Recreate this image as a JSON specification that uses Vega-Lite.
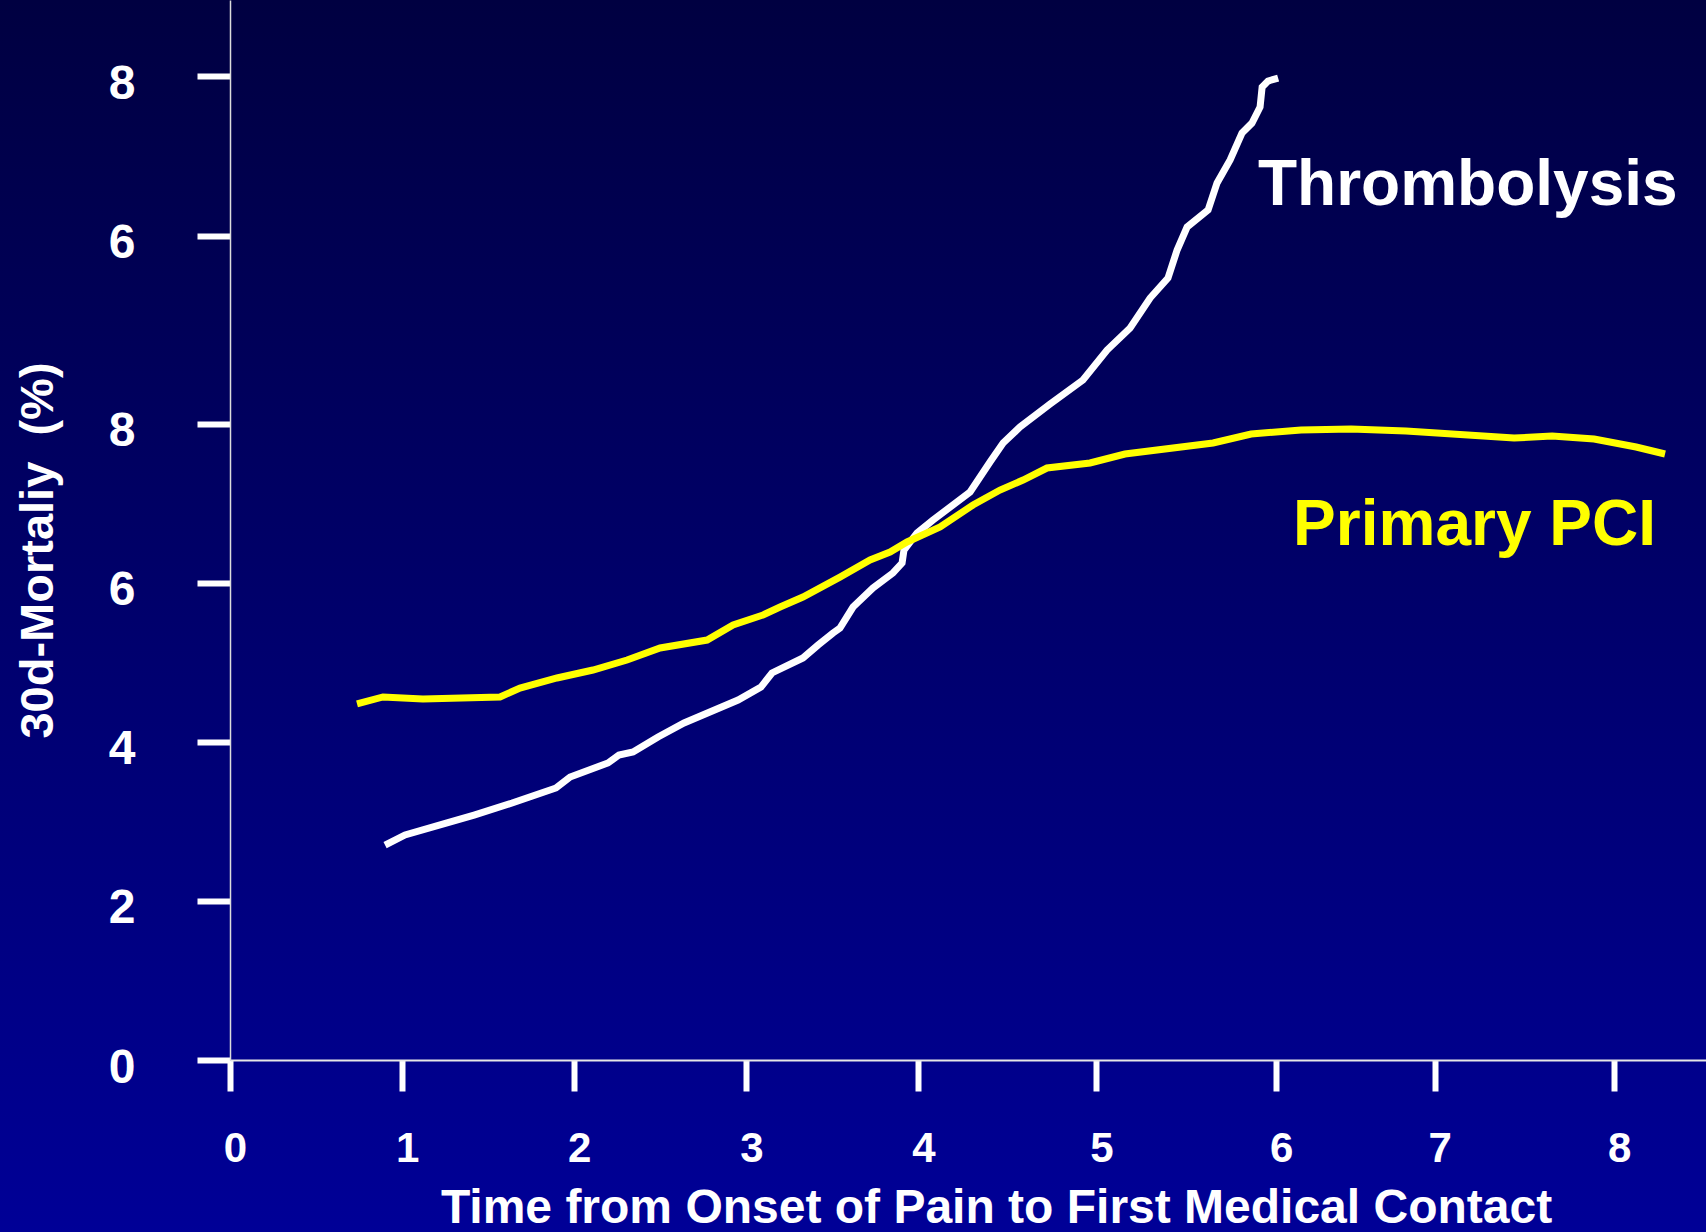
{
  "$schema": "https://vega.github.io/schema/vega-lite/v6.json",
  "width": 1476,
  "height": 1060,
  "autosize": {"type": "none"},
  "padding": {"left": 230, "top": 0, "right": 0, "bottom": 172},
  "background": "#000060",
  "config": {
    "view": {"stroke": null},
    "font": "Liberation Sans",
    "axis": {"grid": false}
  },
  "datasets": {
    "curves": [
      {"series": "Thrombolysis", "t": 0.901, "m": 2.703},
      {"series": "Thrombolysis", "t": 1.017, "m": 2.829},
      {"series": "Thrombolysis", "t": 1.261, "m": 2.980},
      {"series": "Thrombolysis", "t": 1.418, "m": 3.080},
      {"series": "Thrombolysis", "t": 1.639, "m": 3.231},
      {"series": "Thrombolysis", "t": 1.894, "m": 3.420},
      {"series": "Thrombolysis", "t": 1.976, "m": 3.558},
      {"series": "Thrombolysis", "t": 2.196, "m": 3.734},
      {"series": "Thrombolysis", "t": 2.260, "m": 3.835},
      {"series": "Thrombolysis", "t": 2.342, "m": 3.872},
      {"series": "Thrombolysis", "t": 2.487, "m": 4.061},
      {"series": "Thrombolysis", "t": 2.638, "m": 4.237},
      {"series": "Thrombolysis", "t": 2.952, "m": 4.526},
      {"series": "Thrombolysis", "t": 3.085, "m": 4.689},
      {"series": "Thrombolysis", "t": 3.149, "m": 4.866},
      {"series": "Thrombolysis", "t": 3.329, "m": 5.054},
      {"series": "Thrombolysis", "t": 3.417, "m": 5.217},
      {"series": "Thrombolysis", "t": 3.504, "m": 5.368},
      {"series": "Thrombolysis", "t": 3.544, "m": 5.431},
      {"series": "Thrombolysis", "t": 3.620, "m": 5.695},
      {"series": "Thrombolysis", "t": 3.736, "m": 5.934},
      {"series": "Thrombolysis", "t": 3.852, "m": 6.123},
      {"series": "Thrombolysis", "t": 3.905, "m": 6.248},
      {"series": "Thrombolysis", "t": 3.916, "m": 6.412},
      {"series": "Thrombolysis", "t": 3.992, "m": 6.626},
      {"series": "Thrombolysis", "t": 4.085, "m": 6.789},
      {"series": "Thrombolysis", "t": 4.300, "m": 7.141},
      {"series": "Thrombolysis", "t": 4.416, "m": 7.518},
      {"series": "Thrombolysis", "t": 4.492, "m": 7.757},
      {"series": "Thrombolysis", "t": 4.590, "m": 7.958},
      {"series": "Thrombolysis", "t": 4.765, "m": 8.247},
      {"series": "Thrombolysis", "t": 4.956, "m": 8.549},
      {"series": "Thrombolysis", "t": 5.096, "m": 8.926},
      {"series": "Thrombolysis", "t": 5.230, "m": 9.203},
      {"series": "Thrombolysis", "t": 5.346, "m": 9.580},
      {"series": "Thrombolysis", "t": 5.450, "m": 9.832},
      {"series": "Thrombolysis", "t": 5.503, "m": 10.184},
      {"series": "Thrombolysis", "t": 5.561, "m": 10.473},
      {"series": "Thrombolysis", "t": 5.683, "m": 10.687},
      {"series": "Thrombolysis", "t": 5.735, "m": 11.026},
      {"series": "Thrombolysis", "t": 5.811, "m": 11.315},
      {"series": "Thrombolysis", "t": 5.880, "m": 11.655},
      {"series": "Thrombolysis", "t": 5.938, "m": 11.780},
      {"series": "Thrombolysis", "t": 5.985, "m": 11.981},
      {"series": "Thrombolysis", "t": 5.997, "m": 12.233},
      {"series": "Thrombolysis", "t": 6.031, "m": 12.308},
      {"series": "Thrombolysis", "t": 6.090, "m": 12.346},
      {"series": "Primary PCI", "t": 0.738, "m": 4.476},
      {"series": "Primary PCI", "t": 0.889, "m": 4.564},
      {"series": "Primary PCI", "t": 1.121, "m": 4.539},
      {"series": "Primary PCI", "t": 1.569, "m": 4.564},
      {"series": "Primary PCI", "t": 1.685, "m": 4.677},
      {"series": "Primary PCI", "t": 1.900, "m": 4.803},
      {"series": "Primary PCI", "t": 2.109, "m": 4.903},
      {"series": "Primary PCI", "t": 2.307, "m": 5.029},
      {"series": "Primary PCI", "t": 2.499, "m": 5.180},
      {"series": "Primary PCI", "t": 2.772, "m": 5.280},
      {"series": "Primary PCI", "t": 2.923, "m": 5.469},
      {"series": "Primary PCI", "t": 3.097, "m": 5.595},
      {"series": "Primary PCI", "t": 3.196, "m": 5.695},
      {"series": "Primary PCI", "t": 3.329, "m": 5.821},
      {"series": "Primary PCI", "t": 3.544, "m": 6.072},
      {"series": "Primary PCI", "t": 3.719, "m": 6.286},
      {"series": "Primary PCI", "t": 3.835, "m": 6.387},
      {"series": "Primary PCI", "t": 3.934, "m": 6.513},
      {"series": "Primary PCI", "t": 4.126, "m": 6.701},
      {"series": "Primary PCI", "t": 4.317, "m": 6.978},
      {"series": "Primary PCI", "t": 4.474, "m": 7.166},
      {"series": "Primary PCI", "t": 4.608, "m": 7.292},
      {"series": "Primary PCI", "t": 4.747, "m": 7.443},
      {"series": "Primary PCI", "t": 4.997, "m": 7.506},
      {"series": "Primary PCI", "t": 5.200, "m": 7.619},
      {"series": "Primary PCI", "t": 5.712, "m": 7.757},
      {"series": "Primary PCI", "t": 5.933, "m": 7.870},
      {"series": "Primary PCI", "t": 6.223, "m": 7.921},
      {"series": "Primary PCI", "t": 6.514, "m": 7.933},
      {"series": "Primary PCI", "t": 6.833, "m": 7.908},
      {"series": "Primary PCI", "t": 7.461, "m": 7.820},
      {"series": "Primary PCI", "t": 7.682, "m": 7.845},
      {"series": "Primary PCI", "t": 7.926, "m": 7.807},
      {"series": "Primary PCI", "t": 8.170, "m": 7.707},
      {"series": "Primary PCI", "t": 8.338, "m": 7.619}
    ],
    "labels": [
      {"series": "Thrombolysis", "t": 5.973, "m": 10.749, "text": "Thrombolysis"},
      {"series": "Primary PCI", "t": 6.177, "m": 6.475, "text": "Primary PCI"}
    ]
  },
  "resolve": {"axis": {"x": "independent", "y": "independent"}},
  "layer": [
    {
      "data": {"values": [{}]},
      "mark": {
        "type": "rect",
        "color": {
          "gradient": "linear",
          "x1": 0, "y1": 0, "x2": 0, "y2": 1,
          "stops": [
            {"offset": 0, "color": "#000040"},
            {"offset": 1, "color": "#000098"}
          ]
        }
      },
      "encoding": {
        "x": {"datum": -1.6, "type": "quantitative", "axis": null},
        "x2": {"datum": 8.8},
        "y": {"datum": -2.4, "type": "quantitative", "axis": null},
        "y2": {"datum": 13.5}
      }
    },
    {
      "encoding": {
        "x": {
          "field": "t",
          "type": "quantitative",
          "scale": {"domain": [0, 8.576], "nice": false, "zero": false},
          "axis": {
            "orient": "bottom",
            "zindex": 1,
            "values": [0, 1, 2, 3, 4, 5.034, 6.078, 7, 8.042],
            "labelExpr": "format(round(datum.value), 'd')",
            "title": "Time from Onset of Pain to First Medical Contact",
            "titleFont": "Liberation Sans",
            "titleFontSize": 48,
            "titleFontWeight": "bold",
            "titleColor": "#ffffff",
            "titleX": 766,
            "titleY": 162,
            "titleAlign": "center",
            "titleBaseline": "alphabetic",
            "domainColor": "#e6e6e6",
            "domainWidth": 2,
            "tickColor": "#ffffff",
            "tickWidth": 6,
            "tickSize": 31,
            "labelColor": "#ffffff",
            "labelFont": "Liberation Sans",
            "labelFontSize": 42,
            "labelFontWeight": "bold",
            "labelPadding": 37,
            "labelOffset": 5,
            "labelFlush": false,
            "labelOverlap": false,
            "labelBound": false
          }
        },
        "y": {
          "field": "m",
          "type": "quantitative",
          "scale": {"domain": [0, 13.327], "nice": false, "zero": false},
          "axis": {
            "orient": "left",
            "zindex": 1,
            "values": [0, 2, 4, 6, 8, 10.363, 12.371],
            "labelExpr": "datum.value > 11 ? '8' : datum.value > 9 ? '6' : format(datum.value, 'd')",
            "title": "30d-Mortaliy\u00a0 (%)",
            "titleFont": "Liberation Sans",
            "titleFontSize": 47,
            "titleFontWeight": "bold",
            "titleColor": "#ffffff",
            "titleAngle": -90,
            "titleX": -178,
            "titleY": 550,
            "titleAlign": "center",
            "titleBaseline": "alphabetic",
            "domainColor": "#dcdcdc",
            "domainWidth": 1.5,
            "tickColor": "#ffffff",
            "tickWidth": 6,
            "tickSize": 33,
            "labelColor": "#ffffff",
            "labelFont": "Liberation Sans",
            "labelFontSize": 48,
            "labelFontWeight": "bold",
            "labelPadding": 62,
            "labelOffset": 8,
            "labelBaseline": "middle",
            "labelFlush": false,
            "labelOverlap": false,
            "labelBound": false
          }
        }
      },
      "layer": [
        {
          "data": {"name": "curves"},
          "mark": {"type": "line", "strokeWidth": 7, "strokeCap": "butt"},
          "encoding": {
            "color": {
              "field": "series",
              "type": "nominal",
              "scale": {"domain": ["Thrombolysis", "Primary PCI"], "range": ["#ffffff", "#ffff00"]},
              "legend": null
            }
          }
        },
        {
          "data": {"name": "labels"},
          "mark": {
            "type": "text",
            "font": "Liberation Sans",
            "fontSize": 64,
            "fontWeight": "bold",
            "align": "left",
            "baseline": "alphabetic"
          },
          "encoding": {
            "text": {"field": "text"},
            "color": {
              "field": "series",
              "type": "nominal",
              "scale": {"domain": ["Thrombolysis", "Primary PCI"], "range": ["#ffffff", "#ffff00"]},
              "legend": null
            }
          }
        }
      ]
    }
  ]
}
